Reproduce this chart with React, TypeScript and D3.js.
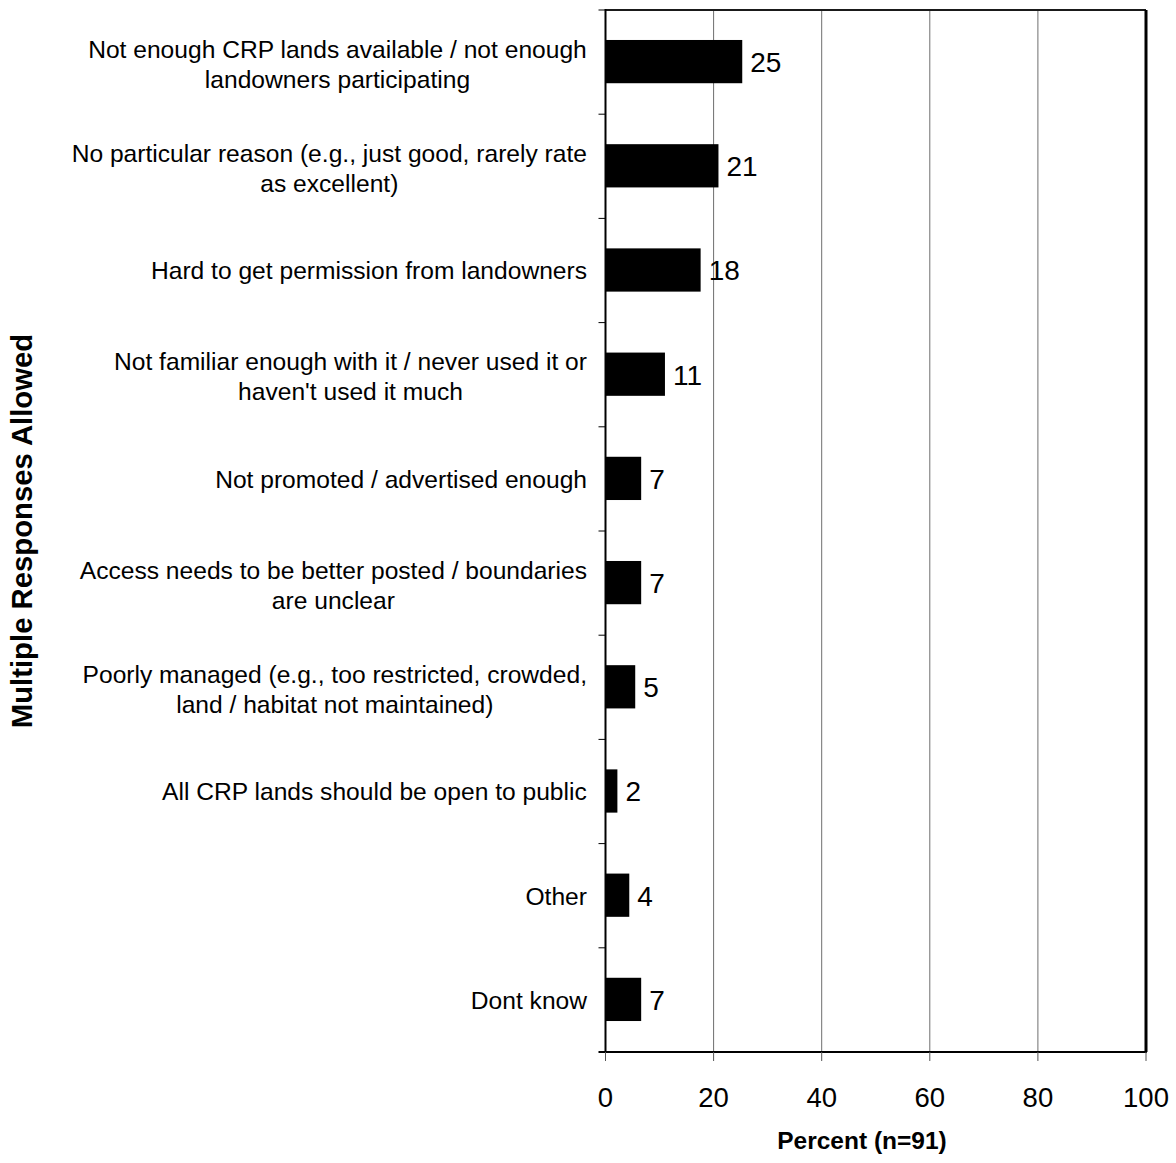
import React from "react";
import * as d3 from "d3";

const categories: string[][] = [
  ["Not enough CRP lands available / not enough", "landowners participating"],
  ["No particular reason (e.g., just good, rarely rate", "as excellent)"],
  ["Hard to get permission from landowners"],
  ["Not familiar enough with it / never used it or", "haven't used it much"],
  ["Not promoted / advertised enough"],
  ["Access needs to be better posted / boundaries", "are unclear"],
  ["Poorly managed (e.g., too restricted, crowded,", "land / habitat not maintained)"],
  ["All CRP lands should be open to public"],
  ["Other"],
  ["Dont know"],
];
const values: number[] = [25.3, 20.9, 17.6, 11.0, 6.6, 6.6, 5.5, 2.2, 4.4, 6.6];
const valueLabels: string[] = ["25", "21", "18", "11", "7", "7", "5", "2", "4", "7"];
const xTicks: number[] = [0, 20, 40, 60, 80, 100];
const xTitle = "Percent (n=91)";
const yTitle = "Multiple Responses Allowed";

const W = 1176;
const H = 1163;
const M = { left: 605.5, right: 1146, top: 10, bottom: 1052 };
const FONT = "Arial, 'Liberation Sans', Helvetica, sans-serif";
const CAT_FS = 24.6;

let ctx: CanvasRenderingContext2D | null = null;
function measure(t: string, fs: number): number {
  if (!ctx) {
    const c = document.createElement("canvas");
    ctx = c.getContext("2d");
  }
  if (!ctx) return t.length * fs * 0.5;
  ctx.font = `${fs}px ${FONT}`;
  return ctx.measureText(t).width;
}

export default function App() {
  const x = d3.scaleLinear().domain([0, 100]).range([M.left, M.right]);
  const idx = categories.map((_, i) => i);
  const y = d3.scaleBand<number>().domain(idx).range([M.top, M.bottom]).padding(0);
  const bw = y.bandwidth();
  const barH = bw * 0.415;
  const labelRight = 587;

  return (
    <div style={{ position: "absolute", left: 0, top: 0, width: W, height: H, background: "#fff" }}>
      <svg width={W} height={H} style={{ display: "block" }} fontFamily={FONT}>
        <rect x={0} y={0} width={W} height={H} fill="#fff" />
        {/* gridlines */}
        {xTicks.slice(1, -1).map((t) => (
          <line key={"g" + t} x1={x(t)} x2={x(t)} y1={M.top} y2={M.bottom} stroke="#6e6e6e" strokeWidth={1} />
        ))}
        {/* bars */}
        {values.map((v, i) => {
          const cy = (y(i) as number) + bw / 2;
          return (
            <g key={"b" + i}>
              <rect x={x(0)} y={cy - barH / 2 - 0.5} width={x(v) - x(0)} height={barH} fill="#000" />
              <text x={x(v) + 8} y={cy + 0.3} dominantBaseline="central" fontSize={28} fill="#000">
                {valueLabels[i]}
              </text>
            </g>
          );
        })}
        {/* frame */}
        <line x1={M.left} x2={M.right} y1={M.top} y2={M.top} stroke="#1a1a1a" strokeWidth={2} />
        <line x1={M.right} x2={M.right} y1={M.top} y2={M.bottom} stroke="#000" strokeWidth={3} />
        <line x1={M.left} x2={M.left} y1={M.top - 1} y2={M.bottom} stroke="#000" strokeWidth={2} />
        <line x1={M.left - 7} x2={M.right + 1} y1={M.bottom} y2={M.bottom} stroke="#000" strokeWidth={2} />
        {/* y ticks at band boundaries */}
        {idx.map((i) => (
          <line key={"yt" + i} x1={M.left - 7} x2={M.left} y1={y(i) as number} y2={y(i) as number} stroke="#000" strokeWidth={1} />
        ))}
        {/* x ticks */}
        {xTicks.map((t) => (
          <g key={"xt" + t}>
            <line x1={x(t)} x2={x(t)} y1={M.bottom} y2={M.bottom + 9} stroke="#555" strokeWidth={1} />
            <text x={x(t)} y={M.bottom + 45} textAnchor="middle" dominantBaseline="central" fontSize={27.5} fill="#000">
              {t}
            </text>
          </g>
        ))}
        {/* category labels */}
        {categories.map((lines, i) => {
          const cy = (y(i) as number) + bw / 2;
          const lh = 30;
          const start = cy - ((lines.length - 1) * lh) / 2 + (lines.length > 1 ? 2 : 0.3);
          const maxW = Math.max(...lines.map((l) => measure(l, CAT_FS)));
          const cx = labelRight - maxW / 2;
          return (
            <text key={"c" + i} textAnchor="middle" fontSize={CAT_FS} fill="#000">
              {lines.map((l, j) => (
                <tspan key={j} x={cx} y={start + j * lh} dominantBaseline="central">
                  {l}
                </tspan>
              ))}
            </text>
          );
        })}
        {/* axis titles */}
        <text x={862} y={1140} textAnchor="middle" dominantBaseline="central" fontSize={24.5} fontWeight="bold">
          {xTitle}
        </text>
        <text
          transform={`translate(21,531) rotate(-90)`}
          textAnchor="middle"
          dominantBaseline="central"
          fontSize={29.3}
          fontWeight="bold"
        >
          {yTitle}
        </text>
      </svg>
    </div>
  );
}
